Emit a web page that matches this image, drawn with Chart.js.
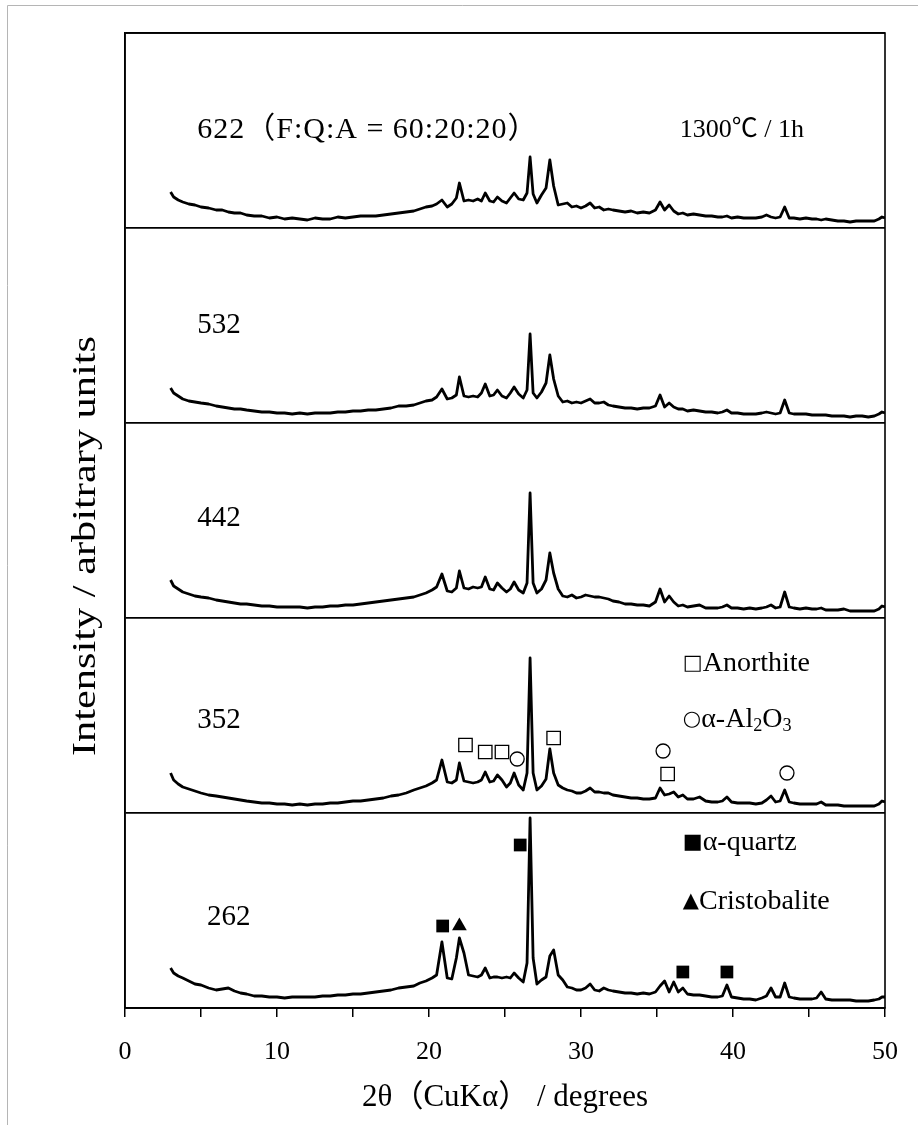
<!DOCTYPE html>
<html>
<head>
<meta charset="utf-8">
<script src="https://cdn.jsdelivr.net/npm/chart.js@4.4.1/dist/chart.umd.min.js"></script>
<style>
  body { margin: 0; background: #fff; }
  #wrap { width: 924px; height: 1130px; position: relative; }
</style>
</head>
<body>
<div id="wrap"><canvas id="xrd"></canvas></div>
<script>
// 2theta grid shared by all patterns
const angles = [
  3.0, 3.2, 3.5, 3.8, 4.2, 4.6, 5.0, 5.5, 6.0, 6.4,
  6.8, 7.2, 7.6, 8.0, 8.5, 9.0, 9.5, 10.0, 10.5, 11.0,
  11.5, 12.0, 12.5, 13.0, 13.5, 14.0, 14.5, 15.0, 15.5, 16.0,
  16.5, 17.0, 17.5, 18.0, 18.5, 19.0, 19.4, 19.8, 20.2, 20.5,
  20.85, 21.2, 21.5, 21.8, 22.0, 22.3, 22.6, 22.9, 23.2, 23.45,
  23.7, 24.0, 24.25, 24.5, 24.8, 25.1, 25.35, 25.6, 25.9, 26.2,
  26.45, 26.65, 26.85, 27.1, 27.4, 27.7, 27.95, 28.2, 28.5, 28.8,
  29.1, 29.4, 29.7, 30.0, 30.3, 30.6, 30.9, 31.2, 31.5, 31.8,
  32.1, 32.5, 32.9, 33.3, 33.7, 34.1, 34.5, 34.9, 35.2, 35.5,
  35.8, 36.1, 36.4, 36.7, 37.0, 37.4, 37.8, 38.2, 38.6, 39.0,
  39.3, 39.6, 39.9, 40.3, 40.7, 41.1, 41.5, 41.9, 42.2, 42.5,
  42.8, 43.1, 43.4, 43.7, 44.0, 44.4, 44.8, 45.2, 45.5, 45.8,
  46.1, 46.5, 46.9, 47.3, 47.7, 48.1, 48.5, 48.9, 49.3, 49.6,
  49.8, 50.0
];

// intensities (arbitrary units)
const int262 = [
  40, 35, 32, 30, 27, 24, 23, 20, 18, 19,
  20, 17, 15, 14, 12, 12, 11, 11, 10, 11,
  11, 11, 11, 12, 12, 13, 13, 14, 14, 15,
  16, 17, 18, 20, 21, 22, 25, 27, 30, 33,
  66, 30, 29, 50, 70, 55, 33, 32, 31, 33,
  40, 30, 31, 31, 30, 31, 30, 35, 30, 26,
  45, 190, 50, 24, 28, 31, 52, 58, 33, 28,
  21, 20, 18, 18, 20, 24, 18, 17, 20, 18,
  17, 16, 15, 15, 14, 15, 14, 16, 22, 27,
  16, 26, 16, 20, 14, 13, 13, 12, 11, 11,
  12, 23, 11, 10, 9, 9, 8, 10, 12, 20,
  11, 11, 25, 11, 10, 9, 9, 9, 10, 16,
  9, 8, 8, 8, 8, 7, 7, 7, 8, 9,
  11, 11
];
const int352 = [
  40, 33, 29, 26, 24, 22, 20, 18, 17, 16,
  15, 14, 13, 12, 11, 10, 10, 9, 9, 8,
  9, 8, 9, 9, 10, 10, 11, 12, 12, 13,
  14, 15, 17, 18, 20, 23, 25, 27, 30, 33,
  53, 31, 30, 33, 50, 32, 31, 30, 31, 33,
  41, 31, 32, 38, 33, 26, 30, 40, 28, 23,
  40, 155, 40, 23, 27, 34, 64, 40, 28, 25,
  23, 22, 20, 20, 22, 25, 21, 21, 20, 20,
  18, 17, 16, 15, 15, 14, 14, 15, 25, 18,
  19, 21, 16, 18, 14, 14, 16, 12, 11, 11,
  12, 16, 11, 10, 10, 10, 9, 10, 13, 17,
  11, 12, 23, 11, 10, 9, 9, 9, 9, 11,
  8, 8, 8, 7, 7, 7, 7, 7, 7, 9,
  12, 11
];
const int442 = [
  38, 32, 29, 26, 24, 22, 21, 20, 18, 17,
  16, 15, 14, 14, 13, 12, 12, 11, 11, 11,
  11, 10, 11, 11, 12, 12, 13, 13, 14, 15,
  16, 17, 18, 19, 20, 21, 23, 25, 28, 31,
  44, 27, 26, 30, 47, 30, 29, 31, 30, 31,
  41, 29, 28, 35, 30, 26, 29, 36, 28, 25,
  35, 125, 35, 25, 29, 38, 65, 45, 29, 22,
  21, 23, 20, 21, 23, 22, 21, 21, 20, 19,
  17, 16, 14, 14, 13, 13, 12, 16, 29, 16,
  22, 16, 12, 13, 11, 12, 13, 10, 10, 10,
  11, 13, 10, 10, 9, 10, 9, 10, 11, 13,
  10, 11, 26, 11, 10, 9, 10, 9, 9, 10,
  8, 8, 8, 9, 7, 7, 7, 7, 7, 9,
  12, 11
];
const int532 = [
  35, 30, 27, 24, 22, 21, 20, 19, 17, 16,
  15, 14, 14, 13, 12, 11, 11, 10, 10, 9,
  10, 9, 10, 10, 10, 11, 11, 12, 12, 13,
  13, 14, 15, 17, 17, 18, 20, 22, 23, 26,
  34, 24, 25, 28, 46, 27, 26, 27, 26, 30,
  39, 27, 28, 33, 27, 25, 30, 36, 29, 25,
  33, 89, 30, 25, 31, 40, 68, 44, 27, 21,
  22, 20, 21, 20, 22, 24, 20, 20, 21, 18,
  17, 16, 15, 15, 14, 15, 15, 17, 28, 16,
  20, 16, 14, 14, 12, 13, 12, 11, 11, 10,
  11, 13, 10, 10, 9, 9, 9, 10, 11, 10,
  9, 10, 23, 10, 9, 9, 9, 8, 8, 8,
  8, 7, 7, 7, 6, 7, 7, 6, 7, 9,
  11, 10
];
const int622 = [
  36, 31, 28, 26, 24, 23, 21, 20, 18, 18,
  16, 15, 15, 13, 12, 12, 10, 11, 9, 10,
  9, 8, 10, 9, 9, 11, 10, 11, 12, 12,
  12, 13, 14, 15, 16, 17, 19, 21, 22, 24,
  28, 21, 24, 30, 45, 27, 28, 27, 29, 27,
  35, 27, 26, 31, 27, 25, 30, 35, 29, 28,
  35, 71, 34, 25, 33, 40, 68, 42, 23, 24,
  25, 21, 22, 20, 22, 25, 20, 21, 18, 19,
  18, 17, 16, 17, 15, 16, 15, 18, 26, 18,
  23, 17, 14, 15, 13, 14, 13, 12, 12, 11,
  11, 12, 10, 11, 10, 10, 10, 11, 13, 11,
  10, 11, 21, 10, 10, 9, 10, 9, 9, 8,
  9, 8, 7, 7, 6, 7, 7, 7, 7, 9,
  11, 10
];

// bottom to top
const sampleNames = ['262', '352', '442', '532', '622（F:Q:A = 60:20:20）'];
const sampleData = [int262, int352, int442, int532, int622];
const panelSpan = 195; // intensity range of one panel

// phase marks (2theta, intensity within the panel)
const quartzX = [20.9, 26.0, 36.7, 39.6];
const quartzY = [82, 163, 36, 36];
const cristoX = [22.0];
const cristoY = [82];
const anorthX = [22.4, 23.7, 24.8, 28.2, 35.7];
const anorthY = [68, 61, 61, 75, 39];
const aluminaX = [25.8, 35.4, 43.55];
const aluminaY = [54, 62, 40];

const serif = '"Liberation Serif", "Noto Sans CJK JP", serif';
Chart.defaults.font.family = serif;
Chart.defaults.color = '#000';

const datasets = sampleData.map((vals, k) => ({
  data: angles.map((a, j) => ({x: a, y: vals[j] + k * panelSpan})),
  borderColor: '#000',
  borderWidth: 2.8,
  borderJoinStyle: 'round',
  pointRadius: 0,
  tension: 0
}));

function marks(xs, ys, panel, style, filled, r) {
  return {
    data: xs.map((a, j) => ({x: a, y: ys[j] + panel * panelSpan})),
    showLine: false,
    pointStyle: style,
    pointRadius: r,
    pointBackgroundColor: filled ? '#000' : '#fff',
    pointBorderColor: '#000',
    pointBorderWidth: filled ? 0 : 1.3
  };
}
datasets.push(marks(quartzX, quartzY, 0, 'rect', true, 9));
datasets.push(marks(cristoX, cristoY, 0, 'triangle', true, 8.5));
datasets.push(marks(anorthX, anorthY, 1, 'rect', false, 9.5));
datasets.push(marks(aluminaX, aluminaY, 1, 'circle', false, 7));

function drawRuns(ctx, x, y, runs, size) {
  for (const r of runs) {
    const s = r.sub ? size * 0.65 : size;
    ctx.font = r.f || (s + 'px ' + serif);
    ctx.fillText(r.t, x, r.sub ? y + size * 0.22 : y);
    x += ctx.measureText(r.t).width;
  }
}

const symFont = '21px "DejaVu Sans"';

const textPlugin = {
  id: 'texts',
  afterDraw(chart) {
    const {ctx, chartArea: a, scales: {x, y}} = chart;
    ctx.save();
    // outer scan frame
    ctx.strokeStyle = '#b5b5b5';
    ctx.lineWidth = 1;
    ctx.beginPath();
    ctx.moveTo(7.5, 1125); ctx.lineTo(7.5, 5.5); ctx.lineTo(918, 5.5);
    ctx.stroke();
    // plot frame
    ctx.strokeStyle = '#000';
    ctx.lineWidth = 1.6;
    ctx.strokeRect(a.left, a.top, a.right - a.left, a.bottom - a.top);

    ctx.fillStyle = '#000';
    ctx.textBaseline = 'middle';
    ctx.textAlign = 'left';
    const labelX = [5.4, 4.75, 4.75, 4.75, 4.75];
    const labelH = [91, 93, 100, 98, 98];
    sampleNames.forEach((n, k) => {
      ctx.font = (k === 4 ? 30 : 29) + 'px ' + serif;
      ctx.letterSpacing = k === 4 ? '1px' : '0px';
      ctx.fillText(n, x.getPixelForValue(labelX[k]), y.getPixelForValue(k * panelSpan + labelH[k]));
    });
    ctx.letterSpacing = '0px';
    ctx.font = '26px ' + serif;
    ctx.fillText('1300℃ / 1h', x.getPixelForValue(36.5), y.getPixelForValue(4 * panelSpan + 98));

    const lx = x.getPixelForValue(36.7);
    drawRuns(ctx, lx, y.getPixelForValue(panelSpan + 149),
      [{t: '□', f: symFont}, {t: 'Anorthite'}], 28);
    drawRuns(ctx, lx, y.getPixelForValue(panelSpan + 93),
      [{t: '○', f: symFont}, {t: 'α-Al'}, {t: '2', sub: true}, {t: 'O'}, {t: '3', sub: true}], 28);
    drawRuns(ctx, lx, y.getPixelForValue(165), [{t: '■', f: symFont}, {t: 'α-quartz'}], 28);
    drawRuns(ctx, lx, y.getPixelForValue(106), [{t: '▲', f: symFont}, {t: 'Cristobalite'}], 28);

    // y title, stretched along its length like the scan
    ctx.translate(86, 546);
    ctx.rotate(-Math.PI / 2);
    ctx.textAlign = 'center';
    ctx.font = '34px ' + serif;
    const title = 'Intensity / arbitrary units';
    const w = ctx.measureText(title).width;
    ctx.scale(420 / w, 1);
    ctx.fillText(title, 0, 0);
    ctx.restore();
  }
};

new Chart(document.getElementById('xrd'), {
  type: 'line',
  data: {datasets},
  options: {
    responsive: true,
    maintainAspectRatio: false,
    animation: false,
    layout: {padding: {left: 0, right: 39, top: 33, bottom: 0}},
    plugins: {legend: {display: false}, tooltip: {enabled: false}},
    scales: {
      x: {
        type: 'linear',
        min: 0,
        max: 50,
        afterFit: s => { s.height = 122; },
        ticks: {
          stepSize: 5,
          autoSkip: false,
          maxRotation: 0,
          padding: 20,
          font: {size: 26},
          callback: v => (v % 10 === 0 ? v : '')
        },
        grid: {drawOnChartArea: false, tickLength: 9, color: '#000', lineWidth: 1.5},
        border: {color: '#000', width: 1.6},
        title: {
          display: true,
          text: '2θ（CuKα） / degrees',
          font: {size: 31},
          padding: {top: 0, bottom: 14}
        }
      },
      y: {
        min: 0,
        max: 5 * panelSpan,
        afterFit: s => { s.width = 125; },
        ticks: {display: false, stepSize: panelSpan},
        grid: {color: '#000', lineWidth: 1.8, drawTicks: false},
        border: {color: '#000', width: 1.6}
      }
    }
  },
  plugins: [textPlugin]
});
</script>
</body>
</html>
